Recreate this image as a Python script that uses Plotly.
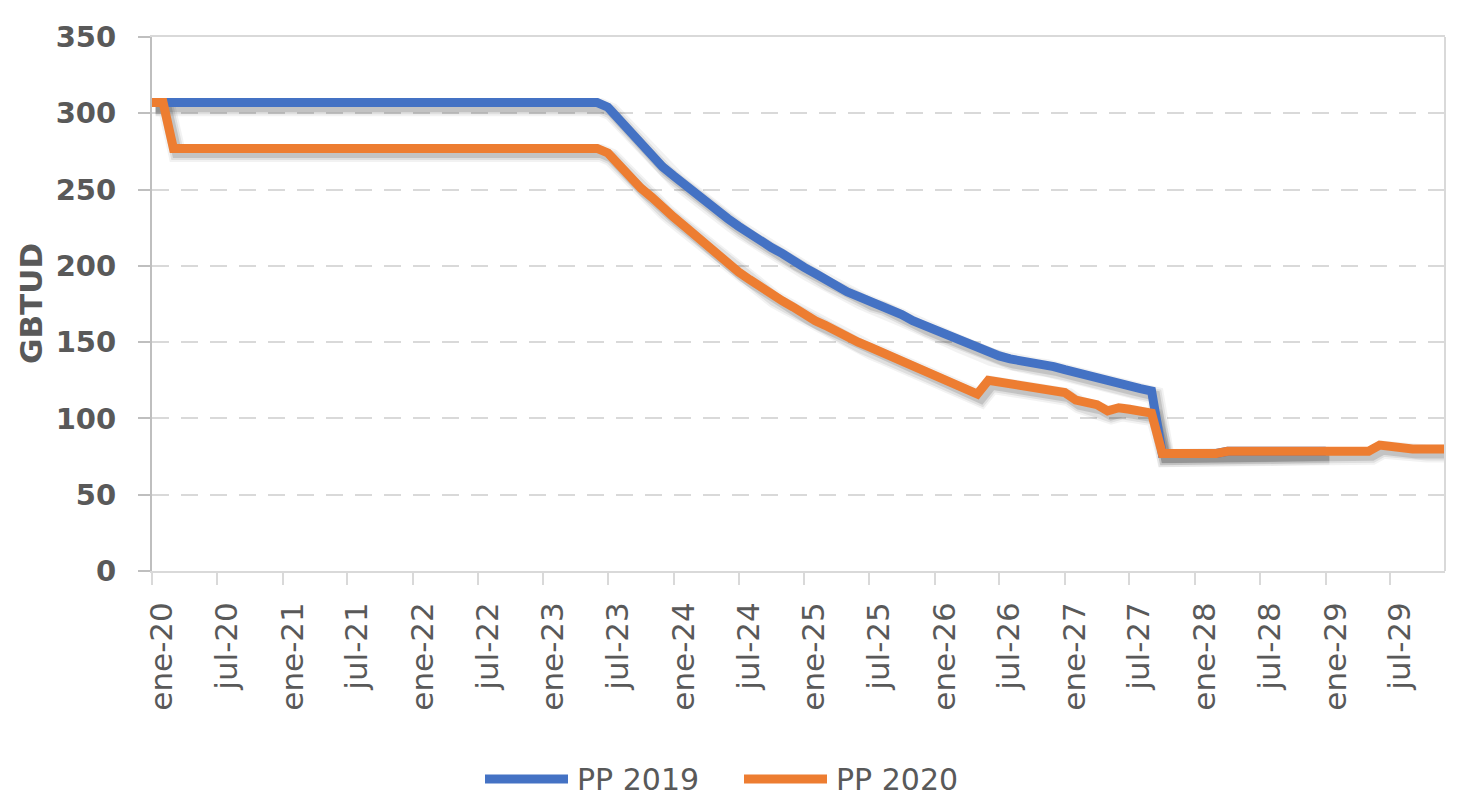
import pandas as pd
import plotly.graph_objects as go

# ---------------- data ----------------
months = pd.date_range("2020-01-01", periods=120, freq="MS")

pp2019 = [
    307, 307, 307, 307, 307, 307, 307, 307, 307, 307, 307, 307,   # 2020
    307, 307, 307, 307, 307, 307, 307, 307, 307, 307, 307, 307,   # 2021
    307, 307, 307, 307, 307, 307, 307, 307, 307, 307, 307, 307,   # 2022
    307, 307, 307, 307, 307, 307, 304, 296, 287, 279, 272, 265,   # 2023
    259, 253, 247, 241, 236, 231, 226, 221, 217, 212, 208, 203,   # 2024
    199, 195, 191, 187, 183, 180, 177, 175, 171, 168, 164, 161,   # 2025
    158, 155, 152, 150, 146, 143, 141, 139, 138, 137, 136, 134,   # 2026
    132, 130, 128, 126, 124, 122.5, 121, 119.5, 118, 77, 77, 77,  # 2027
    77, 77, 77, 78.5, 78.5, 78.5, 78.5, 78.5, 78.5, 78.5, 78.5, 78.5,  # 2028
    78.5,                                                         # ene-29
]

pp2020 = [
    307, 307, 277, 277, 277, 277, 277, 277, 277, 277, 277, 277,   # 2020
    277, 277, 277, 277, 277, 277, 277, 277, 277, 277, 277, 277,   # 2021
    277, 277, 277, 277, 277, 277, 277, 277, 277, 277, 277, 277,   # 2022
    277, 277, 277, 277, 277, 277, 274, 266, 258, 251, 245, 238,   # 2023
    232, 226, 220, 214, 208, 202, 196, 191, 186, 181, 177, 173,   # 2024
    168, 164, 161, 157, 153, 150, 147, 144, 141, 138, 135, 132,   # 2025
    129, 126, 122, 119, 116, 125, 124, 123, 122, 121, 120, 118,   # 2026
    117, 112, 110, 109, 105, 107, 106, 104.5, 103.5, 77, 77, 77,  # 2027
    77, 77, 77, 78.5, 78.5, 78.5, 78.5, 78.5, 78.5, 78.5, 78.5, 78.5,  # 2028
    78.5, 78.5, 78.5, 78.5, 78.5, 82.5, 81.5, 80, 80, 80, 80, 80,  # 2029
]

tick_dates = pd.date_range("2020-01-01", "2029-07-01", freq="6MS")
tick_labels = ["ene-20", "jul-20", "ene-21", "jul-21", "ene-22", "jul-22",
               "ene-23", "jul-23", "ene-24", "jul-24", "ene-25", "jul-25",
               "ene-26", "jul-26", "ene-27", "jul-27", "ene-28", "jul-28",
               "ene-29", "jul-29"]
y_ticks = [0, 50, 100, 150, 200, 250, 300, 350]

series_names = ["PP 2019", "PP 2020"]
series_colors = ["#4472C4", "#ED7D31"]

# ---------------- layout geometry (page pixels) ----------------
OFF = 8                       # page body margin
W, H = 1461 - OFF, 809 - OFF  # figure size
PL, PT, PR, PB = 152, 32, 1445, 571   # plot area on the page
L, T = PL - OFF, PT - OFF
R, B = W - (PR - OFF), H - (PB - OFF)
x0, x1 = months[0], months[-1]

fig = go.Figure()

series = [(months[:len(pp2019)], pp2019), (months, pp2020)]

# soft drop shadows (Excel style), derived from the series
for (xs, ys) in series:
    xs_sh = xs + pd.Timedelta(days=10)
    ys_sh = [v - 3.0 for v in ys]
    for w, a in [(18, 0.05), (14, 0.08), (10, 0.12)]:
        fig.add_trace(go.Scatter(
            x=xs_sh, y=ys_sh, mode="lines", showlegend=False, hoverinfo="skip",
            line=dict(color=f"rgba(0,0,0,{a})", width=w),
            xaxis="x", yaxis="y"))

for (xs, ys), name, col in zip(series, series_names, series_colors):
    fig.add_trace(go.Scatter(
        x=xs, y=ys, mode="lines", name=name, showlegend=False,
        line=dict(color=col, width=9), xaxis="x", yaxis="y"))

# invisible trace to activate label axis
fig.add_trace(go.Scatter(x=[x0, x1], y=[None, None], mode="lines",
                         showlegend=False, hoverinfo="skip", xaxis="x2", yaxis="y"))

label_font = dict(family="DejaVu Sans", size=31, color="#595959")

fig.update_layout(
    width=W, height=H,
    margin=dict(l=L, r=R, t=T, b=B, pad=0),
    paper_bgcolor="white", plot_bgcolor="white",
    showlegend=False,
    xaxis=dict(
        type="date", range=[x0, x1],
        tickmode="array", tickvals=tick_dates, ticktext=[""] * len(tick_dates),
        showticklabels=False,
        ticks="outside", ticklen=12, tickwidth=2, tickcolor="#D9D9D9",
        showline=True, linecolor="#D9D9D9", linewidth=2, mirror=True,
        showgrid=False, zeroline=False,
    ),
    xaxis2=dict(
        type="date", range=[x0, x1], overlaying="x", side="bottom",
        tickmode="array", tickvals=tick_dates + pd.Timedelta(days=28),
        ticktext=tick_labels, tickangle=-90,
        ticks="", ticklabelstandoff=24,
        tickfont=label_font,
        showline=False, showgrid=False, zeroline=False,
    ),
    yaxis=dict(
        range=[0, 350], tickmode="array", tickvals=y_ticks,
        ticks="outside", ticklen=12, tickwidth=2, tickcolor="#BFBFBF",
        showline=True, linecolor="#BFBFBF", linewidth=2,
        showgrid=True, gridcolor="#D9D9D9", gridwidth=2, griddash="17px,12px",
        zeroline=False, ticklabelstandoff=16,
        tickfont=dict(family="DejaVu Sans", size=29, color="#595959", weight="bold"),
    ),
)

# right border of plot area
fig.add_shape(type="line", xref="paper", yref="paper", x0=1, x1=1, y0=0, y1=1,
              line=dict(color="#D9D9D9", width=2))

pw, ph = W - L - R, H - T - B
def px(xpage):
    return (xpage - PL) / pw
def py(ypage):
    return (PB - ypage) / ph

# y-axis title
fig.add_annotation(text="<b>GBTUD</b>", xref="paper", yref="paper",
                   x=px(31), y=0.5, textangle=-90,
                   showarrow=False, xanchor="center", yanchor="middle",
                   font=dict(family="DejaVu Sans", size=31, color="#595959"))

# custom legend (long line samples like the original)
legend_y = 781
for (lx0, lx1, tx), name, col in zip([(485, 568, 575), (744, 827, 834)],
                                     series_names, series_colors):
    fig.add_shape(type="line", xref="paper", yref="paper",
                  x0=px(lx0), x1=px(lx1), y0=py(legend_y), y1=py(legend_y),
                  line=dict(color=col, width=9))
    fig.add_annotation(text=name, xref="paper", yref="paper",
                       x=px(tx), y=py(legend_y), showarrow=False,
                       xanchor="left", yanchor="middle",
                       font=dict(family="DejaVu Sans", size=30, color="#595959"))

fig.write_html("out.html")
